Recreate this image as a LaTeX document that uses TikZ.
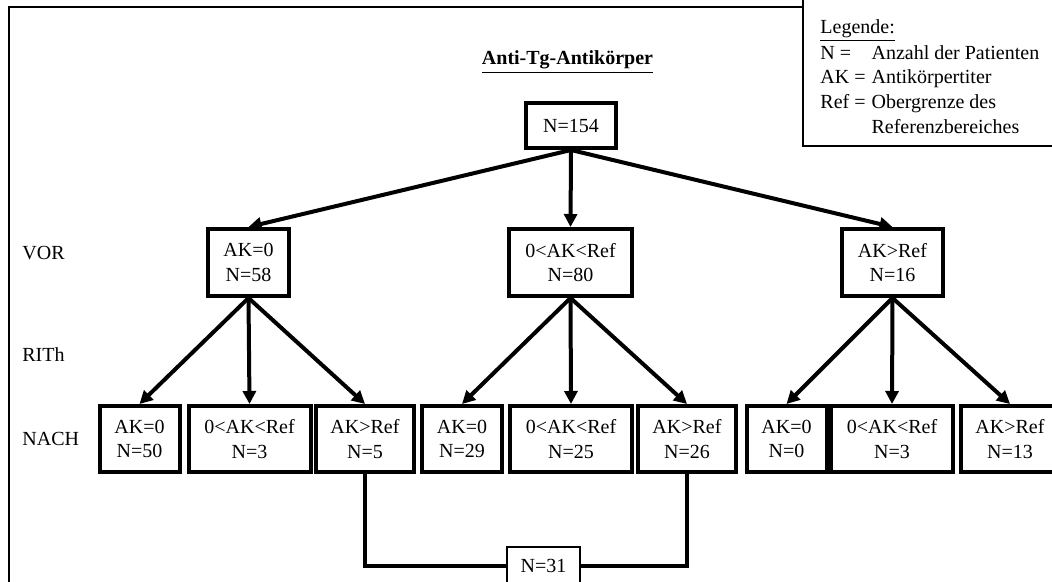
\documentclass[tikz,border=0pt]{standalone}
\usepackage{fontspec}
\setmainfont{Liberation Serif}
\usetikzlibrary{positioning,arrows.meta}

\begin{document}
\begin{tikzpicture}[x=0.5pt, y=-0.5pt,
    font=\fontsize{10}{12.4}\selectfont,
    box/.style={rectangle, draw=black, line width=2pt, align=center, inner sep=0pt, minimum height=33pt},
    schmal/.style={box, minimum width=40pt},
    mittel/.style={box, minimum width=61pt},
    breit/.style={box, minimum width=49pt},
    stufe/.style={anchor=west, inner sep=0pt},
    pfeil/.style={-{Triangle[length=6.5pt,width=6.5pt]}, line width=2pt}]
    \useasboundingbox (0,0) rectangle (1052,582);

    % Rahmen und Legende
    \draw [line width=1.4pt] (9,7) rectangle (1200,700);
    \draw [line width=0.8pt, fill=white] (803,-10) rectangle (1200,146);
    \node [anchor=north west, inner sep=0pt, align=left] (legende) at (820,15.6) {%
        \begin{tabular}{@{}l@{\hspace{3pt}}l@{}}
        \multicolumn{2}{@{}l}{\underline{Legende:}}\\
        N = & Anzahl der Patienten\\
        AK = & Antikörpertiter\\
        Ref = & Obergrenze des\\
         & Referenzbereiches
        \end{tabular}};

    % Titel und Stufen
    \node [anchor=base, inner sep=0pt] (titel) at (567.5,65) {\underline{\textbf{Anti-Tg-Antikörper}}};
    \node [stufe] (vor) at (22,253.5) {VOR};
    \node [stufe] (rith) at (22,355) {RITh};
    \node [stufe] (nach) at (22,439) {NACH};

    % Gesamtzahl
    \node [box, minimum width=45pt, minimum height=22.5pt] (root) at (571,125.5) {N=154};

    % vor der Therapie
    \node [box, minimum width=40.5pt, minimum height=33.5pt] (vor1) at (248.5,262.5) {AK=0\\N=58};
    \node [box, minimum width=61.5pt, minimum height=33.5pt] (vor2) at (570.5,262.5) {0<AK<Ref\\N=80};
    \node [box, minimum width=50.5pt, minimum height=33.5pt] (vor3) at (892.5,262.5) {AK>Ref\\N=16};

    % nach der Therapie
    \node [schmal] (nach1) at (139.5,439) {AK=0\\N=50};
    \node [mittel] (nach2) at (249.5,439) {0<AK<Ref\\N=3};
    \node [breit] (nach3) at (365,439) {AK>Ref\\N=5};
    \node [schmal] (nach4) at (462,439) {AK=0\\N=29};
    \node [mittel] (nach5) at (571,439) {0<AK<Ref\\N=25};
    \node [breit] (nach6) at (687,439) {AK>Ref\\N=26};
    \node [schmal] (nach7) at (786.5,439) {AK=0\\N=0};
    \node [mittel] (nach8) at (892,439) {0<AK<Ref\\N=3};
    \node [breit] (nach9) at (1010,439) {AK>Ref\\N=13};

    % Summe
    \node [rectangle, draw=black, line width=1pt, minimum width=36.5pt, minimum height=19pt, inner sep=0pt, fill=white] (summe) at (543.5,566) {N=31};

    % Pfeile
    \foreach \i in {1,2,3}
        \draw [pfeil] (root.south) -- (vor\i.north);
    \foreach \i in {1,2,3}
        \draw [pfeil] (vor1.south) -- (nach\i.north);
    \foreach \i in {4,5,6}
        \draw [pfeil] (vor2.south) -- (nach\i.north);
    \foreach \i in {7,8,9}
        \draw [pfeil] (vor3.south) -- (nach\i.north);

    % Klammer zur Summe
    \draw [line width=2pt] (nach3.south) |- (summe.west);
    \draw [line width=2pt] (nach6.south) |- (summe.east);

\end{tikzpicture}
\end{document}
